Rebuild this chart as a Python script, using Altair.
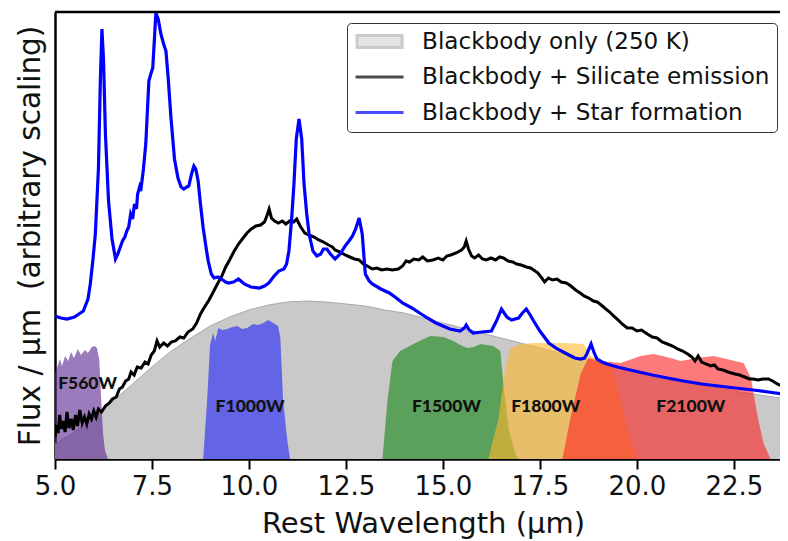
import altair as alt
import pandas as pd

# ---------------- data ----------------
X_MIN, X_MAX = 5.0, 23.69
Y_MAX = 447  # arbitrary flux units

x_ticks = [5.0, 7.5, 10.0, 12.5, 15.0, 17.5, 20.0, 22.5]

legend_labels = ["Blackbody only (250 K)",
                 "Blackbody + Silicate emission",
                 "Blackbody + Star formation"]

# Blackbody only (250 K)
bb_wl = [5.0, 5.5, 6.0, 6.5, 7.0, 7.5, 8.0, 8.5, 9.0, 9.5, 10.0, 10.5, 11.0, 11.5,
         12.0, 12.5, 13.0, 13.5, 14.0, 14.5, 15.0, 15.5, 16.0, 16.5, 17.0, 17.5,
         18.0, 18.5, 19.0, 19.5, 20.0, 20.5, 21.0, 21.5, 22.0, 22.5, 23.0, 23.5, 23.93]
bb_flux = [15, 27, 41, 58, 75, 92, 108, 121, 133, 142, 149, 154, 157, 158,
           157, 155, 153, 149, 146, 141, 136, 131, 126, 121, 116, 111,
           106, 101, 97, 92, 88, 84, 79, 76, 72, 68, 65, 62, 60]

# Blackbody + Silicate emission
sil_wl = [5.00, 5.04, 5.08, 5.12, 5.16, 5.21, 5.26, 5.31, 5.36, 5.42, 5.47, 5.53, 5.58, 5.64,
          5.70, 5.76, 5.82, 5.88, 5.94, 6.00, 6.06, 6.12, 6.20, 6.30, 6.40, 6.48, 6.58, 6.66,
          6.74, 6.82, 6.90, 6.96, 7.04, 7.12, 7.22, 7.32, 7.40, 7.48, 7.56, 7.63, 7.70, 7.80,
          7.90, 8.00, 8.10, 8.22, 8.32, 8.43, 8.55, 8.65, 8.75, 8.84, 8.97, 9.08, 9.20, 9.30,
          9.40, 9.50, 9.62, 9.73, 9.85, 9.95, 10.06, 10.18, 10.30, 10.40, 10.47, 10.52, 10.58,
          10.66, 10.76, 10.86, 10.95, 11.05, 11.15, 11.23, 11.32, 11.44, 11.55, 11.68, 11.80,
          11.92, 12.05, 12.15, 12.22, 12.35, 12.48, 12.60, 12.72, 12.84, 12.95, 13.05, 13.18,
          13.30, 13.42, 13.55, 13.70, 13.85, 13.96, 14.05, 14.14, 14.25, 14.38, 14.48, 14.60,
          14.74, 14.88, 15.00, 15.10, 15.20, 15.34, 15.48, 15.55, 15.60, 15.66, 15.74, 15.82,
          15.92, 16.02, 16.12, 16.24, 16.36, 16.46, 16.56, 16.68, 16.80, 16.90, 17.02, 17.15,
          17.26, 17.34, 17.45, 17.55, 17.62, 17.72, 17.82, 17.94, 18.05, 18.18, 18.30, 18.42,
          18.54, 18.64, 18.76, 18.88, 18.98, 19.08, 19.20, 19.30, 19.40, 19.52, 19.62, 19.75,
          19.88, 20.00, 20.12, 20.27, 20.40, 20.52, 20.65, 20.79, 20.92, 21.05, 21.18, 21.31,
          21.42, 21.50, 21.58, 21.67, 21.78, 21.90, 22.00, 22.09, 22.22, 22.35, 22.53, 22.65,
          22.78, 22.90, 23.00, 23.12, 23.25, 23.39, 23.50, 23.62, 23.75, 23.85, 23.93]
sil_flux = [22, 34, 26, 44, 30, 38, 27, 47, 31, 40, 29, 44, 33, 49,
            36, 42, 35, 45, 40, 48, 42, 50, 47, 53, 56, 60, 62, 70,
            72, 78, 80, 87, 84, 92, 91, 97, 95, 104, 108, 118, 112, 116,
            113, 117, 118, 122, 121, 127, 130, 136, 145, 151, 159, 167, 176, 183,
            192, 199, 208, 215, 221, 226, 230, 233, 234, 237, 244, 250, 241,
            238, 236, 238, 235, 238, 237, 240, 233, 226, 224, 222, 219,
            217, 214, 212, 209, 207, 204, 202, 200, 199, 195, 193, 190,
            191, 189, 190, 189, 190, 193, 198, 197, 200, 199, 202, 198,
            199, 201, 199, 203, 204, 206, 209, 212, 218, 210, 203, 201,
            204, 200, 199, 201, 199, 202, 201, 198, 197, 195, 194, 192,
            191, 189, 186, 181, 177, 181, 179, 180, 177, 176, 173, 169,
            166, 163, 161, 158, 157, 154, 150, 147, 143, 139, 135, 131,
            131, 128, 129, 125, 122, 121, 117, 115, 113, 110, 108, 105,
            102, 98, 103, 97, 95, 93, 94, 90, 89, 87, 85, 84,
            82, 80, 80, 79, 80, 80, 78, 75, 73, 71, 70]

# Blackbody + Star formation
sf_wl = [5.00, 5.15, 5.31, 5.50, 5.73, 5.85, 5.91, 5.98, 6.04, 6.12, 6.17, 6.21, 6.25, 6.30,
         6.38, 6.47, 6.56, 6.62, 6.74, 6.80, 6.85, 6.90, 6.95, 7.00, 7.05, 7.10, 7.13, 7.18,
         7.21, 7.28, 7.34, 7.42, 7.47, 7.52, 7.57, 7.60, 7.66, 7.73, 7.80, 7.86, 7.92, 7.99,
         8.08, 8.17, 8.25, 8.32, 8.40, 8.45, 8.52, 8.58, 8.63, 8.69, 8.75, 8.82, 8.90, 8.95,
         9.03, 9.10, 9.20, 9.29, 9.40, 9.47, 9.60, 9.73, 9.88, 10.05, 10.27, 10.40, 10.51,
         10.65, 10.77, 10.90, 10.97, 11.03, 11.10, 11.16, 11.22, 11.29, 11.36, 11.42, 11.49,
         11.55, 11.65, 11.75, 11.85, 11.92, 12.01, 12.10, 12.22, 12.35, 12.48, 12.58, 12.67,
         12.75, 12.84, 12.92, 13.00, 13.10, 13.18, 13.40, 13.62, 13.80, 13.96, 14.20, 14.40,
         14.60, 14.82, 15.00, 15.18, 15.44, 15.55, 15.60, 15.68, 15.78, 16.00, 16.25, 16.38,
         16.51, 16.65, 16.77, 16.95, 17.05, 17.15, 17.25, 17.34, 17.50, 17.73, 17.95, 18.20,
         18.40, 18.55, 18.65, 18.71, 18.82, 18.90, 18.97, 19.10, 19.23, 19.50, 19.94, 20.40,
         20.79, 21.20, 21.67, 22.10, 22.53, 23.00, 23.39, 23.93]
sf_flux = [143, 141, 140, 142, 148, 160, 175, 200, 225, 291, 380, 430, 400, 325,
           258, 220, 200, 205, 218, 222, 228, 232, 245, 240, 255, 250, 265, 272,
           268, 290, 315, 378, 385, 391, 425, 446, 440, 425, 415, 408, 380, 341,
           300, 281, 272, 270, 272, 273, 285, 293, 290, 278, 255, 231, 210, 198,
           185, 181, 182, 180, 177, 176, 177, 180, 175, 172, 171, 173, 176,
           183, 188, 190, 195, 208, 240, 275, 320, 340, 320, 275, 245,
           225, 208, 203, 205, 210, 210, 205, 200, 205, 213, 218, 223,
           230, 241, 225, 185, 178, 175, 170, 166, 161, 156, 151, 146,
           141, 136, 133, 130, 128, 131, 134, 129, 126, 127, 128, 138,
           150, 142, 139, 141, 146, 150, 144, 138, 128, 116, 110, 105,
           101, 100, 101, 105, 115, 106, 100, 97, 95, 92, 88, 84,
           81, 78, 75, 73, 71, 69, 67, 64]

# MIRI filter transmission curves (arbitrary scaling)
f560_wl = [4.95, 5.05, 5.13, 5.18, 5.26, 5.34, 5.41, 5.49, 5.59, 5.67, 5.77, 5.85, 5.95,
           6.03, 6.08, 6.14, 6.19, 6.24, 6.29, 6.37]
f560_tr = [82, 91, 100, 93, 103, 98, 107, 101, 110, 104, 109, 106, 112,
           113, 111, 100, 60, 25, 8, 0]

f1000_wl = [8.82, 8.92, 9.00, 9.08, 9.13, 9.21, 9.32, 9.44, 9.57, 9.70, 9.82, 9.95, 10.11,
            10.24, 10.37, 10.50, 10.63, 10.75, 10.81, 10.88, 10.99, 11.06]
f1000_tr = [0, 58, 115, 126, 118, 131, 129, 130, 132, 133, 130, 131, 135,
            134, 136, 139, 136, 133, 121, 58, 18, 0]

f1500_wl = [13.44, 13.57, 13.70, 13.90, 14.24, 14.45, 14.68, 15.01, 15.27, 15.45, 15.63,
            15.80, 15.97, 16.30, 16.48, 16.56, 16.69, 16.87, 16.95]
f1500_tr = [0, 58, 98, 108, 115, 119, 123, 122, 118, 114, 111,
            112, 115, 113, 108, 75, 31, 5, 0]

f1800_wl = [16.17, 16.43, 16.61, 16.74, 17.00, 17.35, 17.70, 18.10, 18.63, 18.81, 19.32,
            19.40, 19.58, 19.79, 20.02]
f1800_tr = [0, 40, 91, 111, 115, 116, 116, 116, 115, 103, 95,
            85, 58, 25, 0]

f2100_wl = [18.08, 18.29, 18.55, 18.75, 19.06, 19.58, 20.10, 20.43, 20.87, 21.13, 21.57,
            21.98, 22.42, 22.75, 22.94, 23.12, 23.27, 23.45]
f2100_tr = [0, 41, 85, 101, 98, 96, 103, 105, 101, 98, 101,
            103, 99, 96, 81, 41, 15, 0]

filter_names = ["F560W", "F1000W", "F1500W", "F1800W", "F2100W"]
filter_curves = [(f560_wl, f560_tr), (f1000_wl, f1000_tr), (f1500_wl, f1500_tr),
                 (f1800_wl, f1800_tr), (f2100_wl, f2100_tr)]
filter_colors = ["#58238f", "#2222fa", "#128512", "#ffb72b", "#fd2121"]

label_wl = [5.84, 10.03, 15.09, 17.65, 21.39]
label_y = [75, 52, 52, 52, 52]

# ---------------- chart ----------------
FONT = "DejaVu Sans"
x_scale = alt.Scale(domain=[X_MIN, X_MAX], nice=False, zero=False)
y_scale = alt.Scale(domain=[0, Y_MAX], nice=False, zero=True)

x_enc = alt.X("wl:Q", scale=x_scale,
              axis=alt.Axis(values=x_ticks, format=".1f", title="Rest Wavelength (μm)",
                            grid=False, domainColor="black", domainWidth=2.5,
                            tickColor="black", tickWidth=2, tickSize=10,
                            labelFont=FONT, labelFontSize=26, labelColor="#111",
                            labelPadding=4, labelFlush=False,
                            titleFont=FONT, titleFontSize=29, titleFontWeight="normal",
                            titleColor="#111", titlePadding=10, titleX=368))
y_enc = alt.Y("flux:Q", scale=y_scale,
              axis=alt.Axis(labels=False, ticks=False, grid=False,
                            domainColor="black", domainWidth=2.5,
                            title="Flux / μm\u00a0 (arbitrary scaling)",
                            titleFont=FONT, titleFontSize=29.5, titleFontWeight="normal",
                            titleColor="#111", titlePadding=10))

bb_df = pd.DataFrame({"wl": bb_wl, "flux": bb_flux})
bb_area = alt.Chart(bb_df).mark_area(color="#c9c9c9", opacity=1, clip=True).encode(
    x=x_enc, y=y_enc)
bb_edge = alt.Chart(bb_df).mark_line(color="#a9a9a9", strokeWidth=1, clip=True).encode(
    x="wl:Q", y="flux:Q")

filter_layers = []
for (wl, tr), col in zip(filter_curves, filter_colors):
    df = pd.DataFrame({"wl": wl, "flux": tr})
    filter_layers.append(
        alt.Chart(df).mark_area(color=col, opacity=0.6, clip=True).encode(
            x="wl:Q", y=alt.Y("flux:Q", stack=None)))

sil_line = alt.Chart(pd.DataFrame({"wl": sil_wl, "flux": sil_flux})).mark_line(
    color="black", strokeWidth=3, clip=True).encode(x="wl:Q", y="flux:Q")
sf_line = alt.Chart(pd.DataFrame({"wl": sf_wl, "flux": sf_flux})).mark_line(
    color="#0000ff", strokeWidth=3.2, clip=True).encode(x="wl:Q", y="flux:Q")

labels = alt.Chart(pd.DataFrame({"wl": label_wl, "flux": label_y, "name": filter_names})).mark_text(
    font="Lato", fontSize=17.5, fontWeight=900, color="#111111", align="center",
    baseline="middle").encode(x="wl:Q", y="flux:Q", text="name:N")

top_spine = alt.Chart(pd.DataFrame({"flux": [Y_MAX]})).mark_rule(
    color="black", strokeWidth=2.5).encode(y="flux:Q")

# legend (carried by an invisible, clipped layer)
leg = alt.Legend(title=None, orient="none", legendX=292, legendY=11,
                 fillColor="white", strokeColor="#333333", cornerRadius=4, padding=7,
                 labelFont=FONT, labelFontSize=23.1, labelColor="#111", labelLimit=0,
                 labelOffset=45, symbolSize=400, symbolStrokeWidth=3, rowPadding=11.5)
rect_path = "M-0.85,-0.6H3.65V0.6H-0.85Z"
line_path = "M-1,0H3.8"
legend_df = pd.DataFrame({"series": legend_labels, "wl": [40, 40, 40], "flux": [0, 0, 0]})
legend_layer = alt.Chart(legend_df).mark_point(filled=True, clip=True).encode(
    x="wl:Q", y="flux:Q",
    fill=alt.Fill("series:N", scale=alt.Scale(domain=legend_labels,
                                              range=["#c9c9c9", "black", "#0000ff"]), legend=leg),
    stroke=alt.Stroke("series:N", scale=alt.Scale(domain=legend_labels,
                                                  range=["#b5b5b5", "black", "#0000ff"]), legend=leg),
    shape=alt.Shape("series:N", scale=alt.Scale(domain=legend_labels,
                                                range=[rect_path, line_path, line_path]), legend=leg),
)

chart = alt.layer(bb_area, bb_edge, *filter_layers, sil_line, sf_line, labels,
                  top_spine, legend_layer).properties(
    width=725, height=447,
    padding={"left": 47, "top": 4, "right": 0, "bottom": 84},
    autosize=alt.AutoSizeParams(type="none"),
).configure_view(stroke=None).configure(background="white")

chart.save("out.html", embed_options={"renderer": "svg", "actions": False})
